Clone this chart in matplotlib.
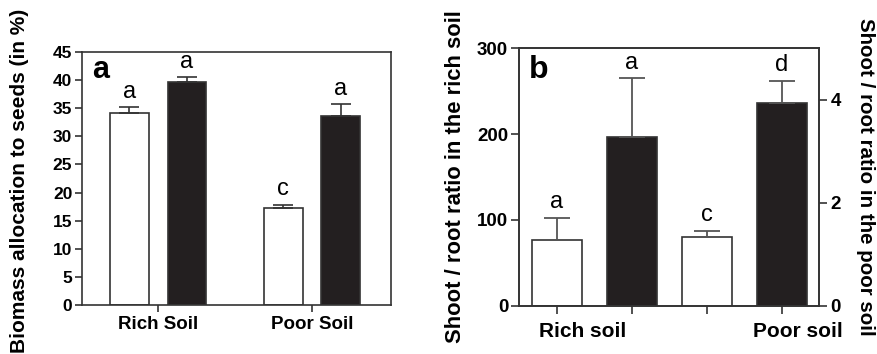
import matplotlib
matplotlib.use("Agg")
import matplotlib.pyplot as plt
import numpy as np

plt.rcParams['font.family'] = ['Liberation Sans', 'DejaVu Sans']

# ---- Data panel a ----
groups_a = ["Rich Soil", "Poor Soil"]
white_a = [34.1, 17.3]
white_a_se = [1.1, 0.55]
black_a = [39.6, 33.6]
black_a_se = [1.0, 2.1]
letters_white_a = ["a", "c"]
letters_black_a = ["a", "a"]
yticks_a = [0, 5, 10, 15, 20, 25, 30, 35, 40, 45]

# ---- Data panel b ----
labels_b = ["Rich soil", "Poor soil"]
rich_b = [77, 197]          # left axis (rich soil)
rich_b_se = [25, 68]
poor_b = [1.34, 3.94]       # right axis (poor soil)
poor_b_se = [0.11, 0.43]
letters_rich_b = ["a", "a"]
letters_poor_b = ["c", "d"]
yticks_b_left = [0, 100, 200, 300]
yticks_b_right = [0, 2, 4]

EDGE = '#333333'
BLACK = '#231f20'

fig = plt.figure(figsize=(8.77, 3.54), dpi=100)

# ---------------- Panel a ----------------
ax = fig.add_axes([0.0935, 0.1384, 0.3523, 0.7147])
x = np.arange(len(groups_a))
off = 0.188
w = 0.253
ax.bar(x - off, white_a, w, color='white', edgecolor=EDGE, linewidth=1.2, zorder=2)
ax.bar(x + off, black_a, w, color=BLACK, edgecolor=EDGE, linewidth=1.2, zorder=2)
ax.errorbar(x - off, white_a, yerr=[np.zeros(2), white_a_se], fmt='none',
            ecolor=EDGE, elinewidth=1.2, capsize=7, capthick=1.2, zorder=3)
ax.errorbar(x + off, black_a, yerr=[np.zeros(2), black_a_se], fmt='none',
            ecolor=EDGE, elinewidth=1.2, capsize=7, capthick=1.2, zorder=3)
for xi, m, s, l in zip(x - off, white_a, white_a_se, letters_white_a):
    ax.annotate(l, (xi, m + s), xytext=(0, 3), textcoords='offset points',
                ha='center', va='bottom', fontsize=17)
for xi, m, s, l in zip(x + off, black_a, black_a_se, letters_black_a):
    ax.annotate(l, (xi, m + s), xytext=(0, 3), textcoords='offset points',
                ha='center', va='bottom', fontsize=17)
ax.set_xlim(-0.494, 1.513)
ax.set_ylim(0, 45)
ax.set_yticks(yticks_a)
ax.set_xticks(x)
ax.set_xticklabels(groups_a, fontsize=13.5, fontweight='bold')
for t in ax.get_yticklabels():
    t.set_fontsize(12.5); t.set_fontweight('bold')
ax.tick_params(axis='both', direction='out', length=5, width=1.2, color=EDGE, pad=2)
ax.tick_params(axis='x', pad=3)
for sp in ax.spines.values():
    sp.set_color(EDGE); sp.set_linewidth(1.2)
ax.set_ylabel("Biomass allocation to seeds (in %)", fontsize=15, fontweight='bold',
              va='center')
ax.yaxis.set_label_coords(-0.203, 0.49)
ax.text(0.032, 0.896, "a", transform=ax.transAxes, fontsize=22, fontweight='bold',
        ha='left', va='baseline')

# ---------------- Panel b ----------------
bx = fig.add_axes([0.5921, 0.1364, 0.3421, 0.727])
bw = 0.66
xr = np.array([0, 1])
xp = np.array([2, 3])
bx.bar(xr[0], rich_b[0], bw, color='white', edgecolor=EDGE, linewidth=1.2, zorder=2)
bx.bar(xr[1], rich_b[1], bw, color=BLACK, edgecolor=EDGE, linewidth=1.2, zorder=2)
bx.errorbar(xr, rich_b, yerr=[np.zeros(2), rich_b_se], fmt='none',
            ecolor='#555555', elinewidth=1.3, capsize=9.5, capthick=1.3, zorder=3)
for xi, m, s, l in zip(xr, rich_b, rich_b_se, letters_rich_b):
    bx.annotate(l, (xi, m + s), xytext=(0, 3.5), textcoords='offset points',
                ha='center', va='bottom', fontsize=17)
bx.set_xlim(-0.503, 3.497)
bx.set_ylim(0, 300)
bx.set_yticks(yticks_b_left)
bx.set_xticks([0, 1, 2, 3])
bx.set_xticklabels([])
for t in bx.get_yticklabels():
    t.set_fontsize(13.5); t.set_fontweight('bold')
bx.tick_params(axis='both', direction='out', length=6, width=1.2, color=EDGE, pad=2)
for sp in bx.spines.values():
    sp.set_color(EDGE); sp.set_linewidth(1.2)
bx.set_ylabel("Shoot / root ratio in the rich soil", fontsize=15.8, fontweight='bold',
              va='center')
bx.yaxis.set_label_coords(-0.214, 0.5)
bx.text(0.032, 0.883, "b", transform=bx.transAxes, fontsize=23, fontweight='bold',
        ha='left', va='baseline')
label_x = [0.347, 3.207]
for lx, lab in zip(label_x, labels_b):
    bx.text(lx, -0.062, lab, transform=bx.get_xaxis_transform(), ha='center', va='top',
            fontsize=15, fontweight='bold')

b2 = bx.twinx()
b2.bar(xp[0], poor_b[0], bw, color='white', edgecolor=EDGE, linewidth=1.2, zorder=2)
b2.bar(xp[1], poor_b[1], bw, color=BLACK, edgecolor=EDGE, linewidth=1.2, zorder=2)
b2.errorbar(xp, poor_b, yerr=[np.zeros(2), poor_b_se], fmt='none',
            ecolor='#555555', elinewidth=1.3, capsize=9.5, capthick=1.3, zorder=3)
for xi, m, s, l in zip(xp, poor_b, poor_b_se, letters_poor_b):
    b2.annotate(l, (xi, m + s), xytext=(0, 3.5), textcoords='offset points',
                ha='center', va='bottom', fontsize=17)
b2.set_ylim(0, 5)
b2.set_yticks(yticks_b_right)
for t in b2.get_yticklabels():
    t.set_fontsize(13.5); t.set_fontweight('bold')
b2.tick_params(axis='y', direction='out', length=6, width=1.2, color=EDGE, pad=2)
for sp in b2.spines.values():
    sp.set_color(EDGE); sp.set_linewidth(1.2)
b2.set_ylabel("Shoot / root ratio in the poor soil", fontsize=14.8, fontweight='bold',
              rotation=270, va='center')
b2.yaxis.set_label_coords(1.153, 0.5)

fig.savefig("out.png", dpi=100)
